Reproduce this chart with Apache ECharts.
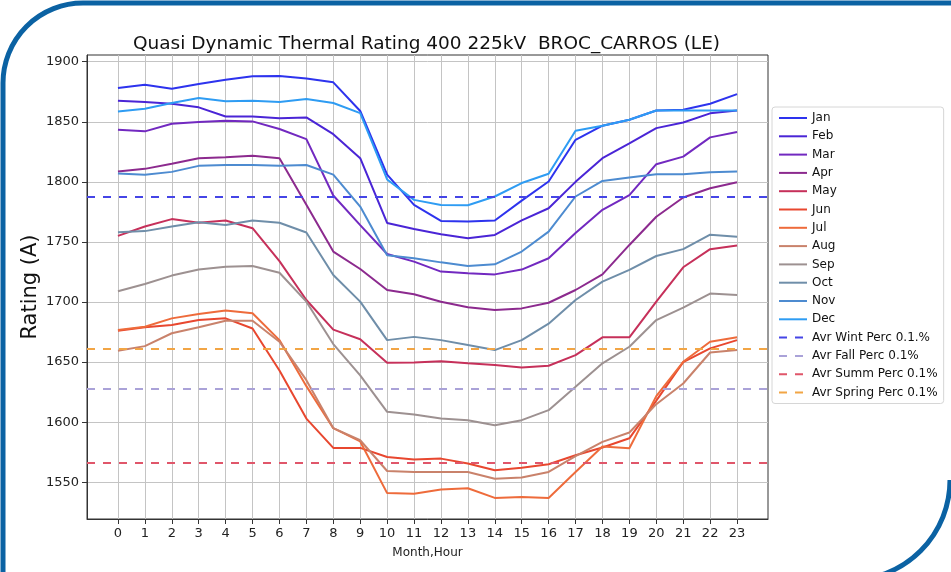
<!DOCTYPE html>
<html>
<head>
<meta charset="utf-8">
<title>Quasi Dynamic Thermal Rating</title>
<script src="https://cdn.jsdelivr.net/npm/echarts@6/dist/echarts.min.js"></script>
<style>
  html, body { margin: 0; padding: 0; background: #ffffff; }
  #chart { width: 951px; height: 572px; }
</style>
</head>
<body>
<div id="chart"></div>
<script>
// Hour of day on the x axis
const hours = [0,1,2,3,4,5,6,7,8,9,10,11,12,13,14,15,16,17,18,19,20,21,22,23];
const yTicks = [1550, 1600, 1650, 1700, 1750, 1800, 1850, 1900];

// Hourly rating (A) per month
const jan = [1878, 1880.8, 1877.5, 1881.4, 1885, 1887.8, 1888, 1886, 1882.8, 1859, 1806, 1780.8, 1767.5, 1767, 1767.8, 1784.4, 1800.3, 1835, 1846.7, 1851.7, 1859.4, 1860, 1865, 1873];
const feb = [1867.5, 1866.4, 1865, 1862, 1854.4, 1854.4, 1853, 1853.6, 1839.7, 1819.7, 1765.8, 1760.8, 1756.4, 1753, 1755.8, 1768, 1778, 1800, 1819.7, 1832, 1844.7, 1849.4, 1857, 1859.4];
const mar = [1843.3, 1842, 1848.3, 1849.7, 1850.8, 1850.3, 1844, 1835.6, 1788.6, 1764, 1740, 1733.6, 1725.3, 1724, 1723, 1727, 1736.4, 1757.5, 1776.7, 1789, 1814.7, 1821, 1837, 1841.4];
const apr = [1808.6, 1810.8, 1815, 1819.7, 1820.5, 1821.7, 1819.7, 1781, 1742, 1727.5, 1710, 1706.4, 1700.3, 1695.6, 1693.3, 1694.7, 1699.4, 1710, 1723, 1747.5, 1771, 1787, 1794.7, 1799.7];
const may = [1755, 1762.8, 1769, 1766, 1767.8, 1761.4, 1734, 1701.7, 1677, 1669, 1649.4, 1649.6, 1650.8, 1649, 1647.5, 1645.6, 1647, 1655.8, 1670.6, 1670.6, 1700.3, 1728.9, 1744, 1747];
const jun = [1676, 1679, 1680.8, 1685, 1686.4, 1678, 1643, 1603, 1578.6, 1578.6, 1571, 1569, 1569.7, 1565.6, 1560, 1562, 1565, 1572.5, 1579, 1586.6, 1618, 1650, 1661.4, 1668.3];
const jul = [1676.7, 1679.4, 1686.4, 1690, 1693, 1690.6, 1668.3, 1630, 1595, 1584, 1541, 1540.5, 1544, 1545, 1537, 1537.8, 1537, 1558.6, 1579.7, 1578.3, 1621.7, 1650.3, 1667, 1670.6];
const aug = [1659.4, 1663.3, 1674, 1679, 1684.4, 1684.4, 1667, 1635, 1595, 1585, 1559.4, 1558.6, 1558.6, 1558.6, 1553, 1553.9, 1558.6, 1571.7, 1583.6, 1591.4, 1615, 1632.2, 1658, 1660];
const sep = [1709, 1715, 1722, 1727, 1729.4, 1730, 1724.4, 1700.3, 1665, 1639, 1608.6, 1606.4, 1603, 1601.7, 1597.5, 1601.7, 1610, 1629.4, 1649, 1662.8, 1685, 1695.3, 1707, 1705.8];
const oct = [1758, 1759, 1762.8, 1766.4, 1764, 1767.8, 1766, 1757.8, 1722.5, 1700.3, 1668.3, 1671, 1668.3, 1664.2, 1660, 1668.3, 1682, 1701.7, 1717, 1726.7, 1738.3, 1744, 1756, 1754.4];
const nov = [1807, 1806, 1808.3, 1813.3, 1814, 1814, 1813.3, 1814, 1806, 1779.4, 1739, 1736.4, 1733, 1730, 1731.4, 1742, 1758.6, 1787.8, 1800.8, 1803.6, 1806.4, 1806.4, 1808, 1808.6];
const dec = [1858.6, 1860.8, 1865.6, 1869.7, 1867, 1867.5, 1866.4, 1869, 1865.6, 1857.2, 1802, 1785, 1780.8, 1780.5, 1787.8, 1799, 1806.7, 1842.5, 1846.7, 1851.7, 1859.4, 1859.4, 1859.4, 1859.4];

const monthNames = ['Jan','Feb','Mar','Apr','May','Jun','Jul','Aug','Sep','Oct','Nov','Dec'];
const monthValues = [jan, feb, mar, apr, may, jun, jul, aug, sep, oct, nov, dec];
const monthColors = ['#2d33ee','#4a25d6','#7229c0','#8c2a8e','#c6305a','#e8472f','#ee6b3b','#c9826b','#9d9191','#6f8ea9','#4d8bd0','#2e9cf3'];

// Seasonal average 0.1% percentile levels (A)
const avgNames = ['Avr Wint Perc 0.1.%', 'Avr Fall Perc 0.1%', 'Avr Summ Perc 0.1%', 'Avr Spring Perc 0.1%'];
const avgValues = [1787.6, 1627.8, 1566, 1661.5];
const avgColors = ['#4545e6', '#aaa2d8', '#e0566a', '#f2a545'];

const FONT = 'DejaVu Sans';

const series = [];
monthNames.forEach((name, i) => {
  series.push({
    name: name,
    type: 'line',
    data: hours.map((h, k) => [h, monthValues[i][k]]),
    showSymbol: false,
    symbol: 'none',
    lineStyle: { color: monthColors[i], width: 2 },
    itemStyle: { color: monthColors[i] },
    silent: true
  });
});
avgNames.forEach((name, i) => {
  series.push({
    name: name,
    type: 'line',
    data: [],
    symbol: 'none',
    lineStyle: { color: avgColors[i], width: 2, type: [8, 8] },
    itemStyle: { color: avgColors[i] },
    markLine: {
      silent: true,
      symbol: 'none',
      label: { show: false },
      lineStyle: { color: avgColors[i], width: 2, type: [8, 8] },
      data: [{ yAxis: avgValues[i] }]
    }
  });
});

const chart = echarts.init(document.getElementById('chart'), null, { renderer: 'canvas' });
chart.setOption({
  animation: false,
  backgroundColor: '#ffffff',
  textStyle: { fontFamily: FONT },
  title: {
    text: 'Quasi Dynamic Thermal Rating 400 225kV  BROC_CARROS (LE)',
    left: 421.5,
    textAlign: 'center',
    top: 30,
    textStyle: { fontFamily: FONT, fontSize: 18.5, fontWeight: 'normal', color: '#111' }
  },
  legend: {
    orient: 'vertical',
    left: 772,
    top: 107,
    padding: [5, 6, 5, 6],
    itemWidth: 28,
    itemHeight: 12,
    itemGap: 6.3,
    itemStyle: { opacity: 0 },
    backgroundColor: '#ffffff',
    borderColor: '#d6d6d6',
    borderWidth: 1,
    borderRadius: 3,
    textStyle: { fontFamily: FONT, fontSize: 12, color: '#111' },
    data: monthNames.concat(avgNames)
  },
  grid: {
    left: 87, top: 55, width: 681, height: 464,
    show: true, borderColor: '#333', borderWidth: 1, containLabel: false
  },
  xAxis: {
    type: 'value',
    min: -1.15,
    max: 24.15,
    name: 'Month,Hour',
    nameLocation: 'middle',
    nameGap: 28,
    nameTextStyle: { fontFamily: FONT, fontSize: 12, color: '#222' },
    axisLine: { show: true, onZero: false, lineStyle: { color: '#333', width: 1 } },
    axisTick: { show: true, inside: false, length: 5, customValues: hours, lineStyle: { color: '#333' } },
    axisLabel: { customValues: hours, margin: 8, fontFamily: FONT, fontSize: 13, color: '#222' },
    splitLine: { show: true, lineStyle: { color: '#c4c4c4', width: 1 } }
  },
  yAxis: {
    type: 'value',
    min: 1519.45,
    max: 1905.55,
    name: 'Rating (A)',
    nameLocation: 'middle',
    nameGap: 46,
    nameMoveOverlap: false,
    nameTextStyle: { fontFamily: FONT, fontSize: 21, color: '#111' },
    axisLine: { show: true, onZero: false, lineStyle: { color: '#333', width: 1 } },
    axisTick: { show: true, inside: false, length: 5, customValues: yTicks, lineStyle: { color: '#333' } },
    axisLabel: {
      customValues: yTicks, margin: 8, fontFamily: FONT, fontSize: 13, color: '#222',
      formatter: (v) => String(v)
    },
    splitLine: { show: true, lineStyle: { color: '#c4c4c4', width: 1 } }
  },
  graphic: [
    // slide frame: top edge, top-left rounded corner, left edge
    { type: 'line', silent: true, shape: { x1: 83, y1: 3, x2: 960, y2: 3 }, style: { stroke: '#0b62a3', lineWidth: 5 } },
    { type: 'arc', silent: true, shape: { cx: 83, cy: 83, r: 80, startAngle: Math.PI, endAngle: Math.PI * 1.5 }, style: { stroke: '#0b62a3', lineWidth: 5, fill: null } },
    { type: 'line', silent: true, shape: { x1: 3, y1: 83, x2: 3, y2: 580 }, style: { stroke: '#0b62a3', lineWidth: 5 } },
    // bottom-right rounded corner
    { type: 'arc', silent: true, shape: { cx: 850, cy: 480, r: 100, startAngle: 0, endAngle: Math.PI / 2 }, style: { stroke: '#0b62a3', lineWidth: 5, fill: null } }
  ],
  series: series
});
</script>
</body>
</html>
